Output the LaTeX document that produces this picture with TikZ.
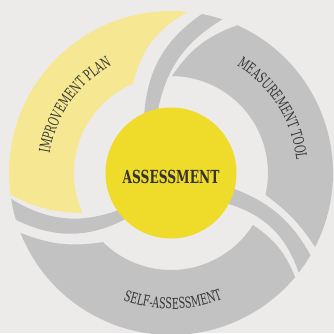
\documentclass[tikz,border=0pt]{standalone}
\usepackage{fontspec}
\usepackage{tikz}
\usetikzlibrary{decorations.text}
\newfontfamily\arcfont[FakeStretch=0.64]{DejaVu Serif}
\newfontfamily\corefont[FakeStretch=0.68]{DejaVu Serif}
\definecolor{paper}{RGB}{237,234,234}
\definecolor{ringgrey}{RGB}{194,194,194}
\definecolor{planyellow}{RGB}{246,232,146}
\definecolor{coreyellow}{RGB}{239,219,41}
\definecolor{labelgrey}{RGB}{51,51,51}

\begin{document}
\begin{tikzpicture}[x=1pt,y=1pt]

  \tikzset{ring/.style = {fill=ringgrey, draw=none}}
  \tikzset{plan/.style = {fill=planyellow, draw=none}}
  \tikzset{arclabel/.style = {postaction={decorate},
      decoration={text along path, text align=center, text color=labelgrey,
        text={|\arcfont\fontsize{15}{15}\selectfont|#1}}}}
  % background
  \fill[paper] (-171,-160) rectangle (163,173);
  \useasboundingbox (-171,-160) rectangle (163,173);
  % segments
  \fill[plan] (84:162pt) arc[start angle=84, end angle=187.7, radius=162pt]
    to[bend right=13] (204.4:97pt)
    arc[start angle=204.4, end angle=113, radius=97pt]
    to[bend left=24] (84:162pt) -- cycle;
  \fill[ring] (201.7:162pt) arc[start angle=201.7, end angle=320, radius=162pt]
    to[bend right=17] (327.6:97pt)
    arc[start angle=327.6, end angle=225.4, radius=97pt]
    to[bend left=15] (201.7:162pt) -- cycle;
  \fill[ring] (-27.2:162pt) arc[start angle=-27.2, end angle=65.8, radius=162pt]
    to[bend right=18] (89.4:97pt)
    arc[start angle=89.4, end angle=-13, radius=97pt]
    to[bend left=10] (-27.2:162pt) -- cycle;
  % tails
  \fill[ring] (79:162pt) to[bend right=26] (115.8:62pt) -- (0,0)
    -- (102.6:62pt) to[bend left=24] (71.5:162pt)
    arc[start angle=71.5, end angle=79, radius=162pt] -- cycle;
  \fill[ring] (-30.5:162pt) to[bend right=20] (-13.8:62pt) -- (0,0)
    -- (-29:62pt) to[bend left=28] (-38:162pt)
    arc[start angle=-38, end angle=-30.5, radius=162pt] -- cycle;
  \fill[ring] (196.8:162pt) to[bend right=27] (226.2:62pt) -- (0,0)
    -- (215.8:62pt) to[bend left=26] (189.2:162pt)
    arc[start angle=189.2, end angle=196.8, radius=162pt] -- cycle;
  % centre
  \node[circle, fill=coreyellow, minimum size=131pt, inner sep=0pt] (core) at (0,0) {};
  \node[font=\corefont\bfseries\fontsize{18}{18}\selectfont, text=labelgrey]
    (corelabel) at ([yshift=-3.5pt]core.center) {ASSESSMENT};
  % labels
  \path[arclabel={IMPROVEMENT PLAN}] (184.8:123pt) arc[start angle=184.8, end angle=104.8, radius=123pt];
  \path[arclabel={MEASUREMENT TOOL}] (72.2:126pt) arc[start angle=72.2, end angle=-7.8, radius=126pt];
  \path[arclabel={SELF-ASSESSMENT}] (230.8:136pt) arc[start angle=230.8, end angle=310.8, radius=136pt];
\end{tikzpicture}
\end{document}
